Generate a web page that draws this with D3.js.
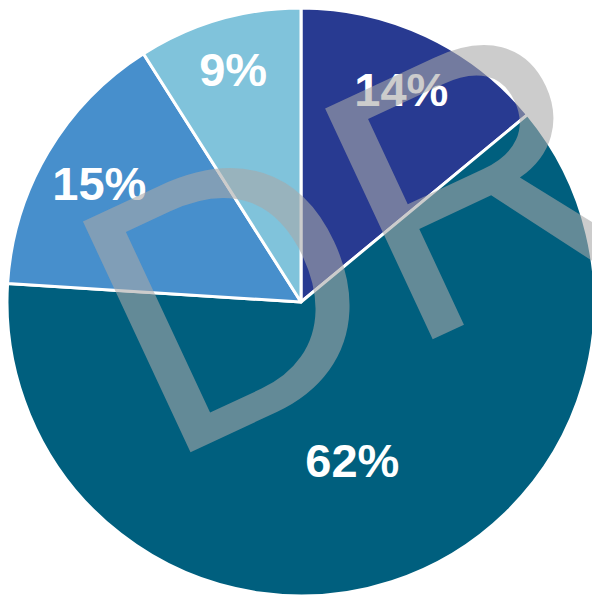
<!DOCTYPE html>
<html>
<head>
<meta charset="utf-8">
<script src="https://cdn.jsdelivr.net/npm/d3@7/dist/d3.min.js"></script>
<style>
  html, body { margin: 0; padding: 0; background: #fff; overflow: hidden; }
  svg { display: block; }
</style>
</head>
<body>
<svg id="chart" width="592" height="597"></svg>
<script>
// Share of each segment, clockwise from 12 o'clock
const categories = ["A", "B", "C", "D"];
const shares = [14, 62, 15, 9];
const labels = ["14%", "62%", "15%", "9%"];
const colors = ["#283a91", "#005f7e", "#478fcc", "#80c3db"];

const width = 592, height = 597;
const cx = 301, cy = 302, radius = 294;

const svg = d3.select("#chart");
const g = svg.append("g").attr("transform", `translate(${cx},${cy})`);

const pie = d3.pie().sort(null).value(d => d.value);
const data = pie(categories.map((c, i) => ({ cat: c, value: shares[i], label: labels[i], color: colors[i] })));

const arc = d3.arc().innerRadius(0).outerRadius(radius);

g.selectAll("path.slice")
  .data(data)
  .join("path")
  .attr("class", "slice")
  .attr("d", arc)
  .attr("fill", d => d.data.color)
  .attr("stroke", "#fff")
  .attr("stroke-width", 3)
  .attr("stroke-linejoin", "round");

// Labels sit further out on narrow slices and nearer the centre on wide ones
const total = d3.sum(shares);
function labelPos(d) {
  const pct = 100 * d.data.value / total;
  const r = radius * (0.871 - 0.00494 * pct);
  return d3.arc().innerRadius(r).outerRadius(r).centroid(d);
}

g.selectAll("text.lbl")
  .data(data)
  .join("text")
  .attr("class", "lbl")
  .attr("transform", d => `translate(${labelPos(d)})`)
  .attr("text-anchor", "middle")
  .attr("dy", "0.36em")
  .attr("fill", "#fff")
  .attr("font-family", "'Liberation Sans', Arial, sans-serif")
  .attr("font-weight", "bold")
  .attr("font-size", 47)
  .text(d => d.data.label);

// Semi-transparent watermark across the chart
svg.append("text")
  .attr("transform", "translate(163,465) rotate(-25)")
  .attr("fill", "#a8a8a8")
  .attr("fill-opacity", 0.59)
  .attr("font-family", "'Liberation Sans', Arial, sans-serif")
  .attr("font-size", 370)
  .text("DR");
</script>
</body>
</html>
